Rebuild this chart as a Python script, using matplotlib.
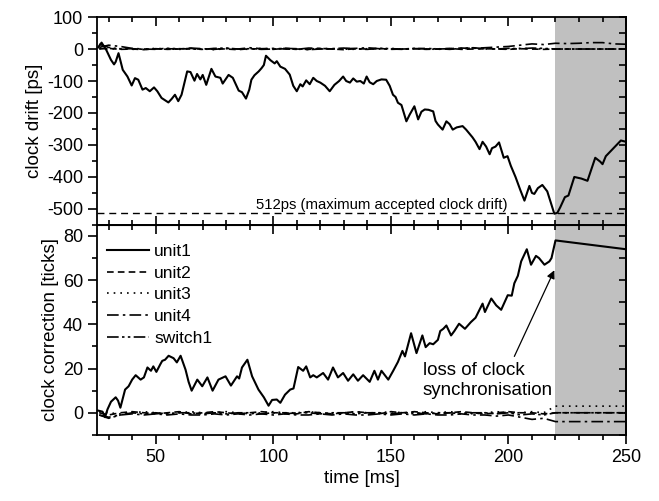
"""Clock drift and clock correction of unit1 versus time, two stacked panels."""

import matplotlib

matplotlib.use("Agg")
import matplotlib.pyplot as plt  # noqa: E402
from matplotlib.ticker import MultipleLocator  # noqa: E402

plt.rcParams["font.family"] = ["Liberation Sans", "DejaVu Sans"]
plt.rcParams["axes.unicode_minus"] = False

# unit1 clock drift [ps]
drift_t = [25.5, 27, 29, 31, 32.3, 33, 34.2, 36, 38, 39.8, 41.2, 42.6, 44.4, 45.8,
           47.5, 49.3, 50.7, 52.5, 54.2, 55.4, 56.8, 58.2, 59.6, 61, 63.4, 64.8,
           66.5, 67.6, 69, 70, 71.5, 73.7, 75.4, 77.5, 78.5, 81, 82.8, 85.3, 86.7,
           88.4, 89.8, 90.7, 92, 93.8, 95, 96, 96.9, 98.8, 100.6, 101.5, 103, 105,
           107, 108.5, 110, 111.5, 112.5, 114, 115.5, 117, 118.5, 120, 122, 124,
           126, 128, 129.7, 131, 132.6, 134, 135.5, 137, 138.5, 139.7, 141, 142.5,
           144, 146, 148, 149.5, 150.9, 152, 153, 154.5, 156.6, 158, 160, 161.6,
           163, 164.4, 166, 168, 169, 170, 172, 173.6, 175, 176.3, 178, 180.5, 182,
           184.7, 186, 187.7, 189, 190.5, 192, 193, 194.5, 196, 198, 199.6, 201,
           203, 205, 206.8, 208.9, 210, 211, 212.5, 214.4, 216.5, 218, 219.5, 220.8,
           222, 224, 225.5, 228, 231, 233.6, 236.9, 239, 240, 241.4, 244, 247.8, 250]
drift_unit1 = [5, 20, -3, -34, -48, -40, -13, -65, -86, -114, -91, -96, -127, -122,
               -132, -120, -132, -153, -161, -167, -156, -143, -163, -143, -70, -72,
               -99, -78, -95, -81, -112, -62, -86, -90, -108, -81, -90, -130, -135,
               -155, -127, -96, -82, -70, -60, -50, -21, -35, -45, -38, -55, -62,
               -80, -115, -132, -110, -117, -98, -110, -90, -100, -105, -115, -132,
               -112, -100, -86, -100, -105, -92, -102, -100, -108, -86, -104, -110,
               -100, -95, -96, -115, -143, -150, -168, -175, -226, -205, -179, -220,
               -196, -189, -190, -195, -225, -236, -252, -226, -235, -252, -245, -241, -252,
               -276, -290, -313, -290, -305, -329, -310, -305, -292, -340, -335, -365,
               -400, -440, -474, -428, -450, -453, -435, -425, -445, -480, -515, -512,
               -495, -463, -458, -400, -405, -412, -340, -352, -360, -335, -315, -286, -290]

# unit1 clock correction [ticks]
corr_t = [25.5, 27.4, 28.5, 29.5, 31, 33, 34, 35, 37, 38.5, 40, 41.5, 43.6, 45, 46.5,
          48, 49, 50.3, 52, 52.8, 54, 55.5, 57.6, 59, 60.6, 62.7, 64, 65.3, 67.7,
          69.8, 72, 74.2, 76.7, 79.7, 82, 84.6, 85.5, 86.7, 89, 91, 93.7, 96, 98,
          99.5, 101.5, 103, 105, 107.2, 108.6, 110.6, 112.7, 114, 115.7, 117, 118.5,
          121.2, 123.3, 125.4, 127.5, 129.7, 131.8, 134, 136, 138.2, 141, 143, 144.5,
          146, 148.9, 151, 153, 154.9, 156, 158.6, 160.9, 163.4, 164.8, 166.5, 168,
          170, 171, 172.3, 173.6, 175.6, 177, 179, 181.5, 184, 186, 189, 190, 192.7,
          194.8, 196.9, 199.7, 201.4, 202.5, 204, 205.4, 207.8, 209.6, 211.7, 213,
          215.3, 217.4, 218.3, 220, 250]
corr_unit1 = [1, 0.5, -2, 1.5, 5, 7, 5.5, 2.3, 10.5, 12, 15, 17, 15, 16, 20.5,
              19, 21, 18.5, 22, 23.5, 24, 25.8, 24.7, 22.8, 25.8, 19.5, 14, 10, 15,
              12, 16, 10, 15, 16.5, 12.3, 16.5, 15.5, 20.5, 24, 16.5, 10.5, 7, 3.2,
              5.8, 6, 4.5, 8.2, 10.5, 11, 20.7, 19, 21, 16, 17, 16,
              18, 15, 20.5, 16, 18, 14.5, 17.4, 14.5, 17, 14, 19, 15,
              19, 15, 19, 23, 28, 25.5, 36, 27, 35, 29.7, 31.5, 31,
              33, 37, 38, 39.5, 35, 37, 40.3, 38, 41, 43, 49.4, 45.6, 51.7,
              48.6, 46.6, 53.2, 53, 58.6, 62, 68.5, 74, 67, 71, 70,
              67, 68.5, 70, 78, 74]

# the other units, sampled coarsely
aux_t = [26, 30, 35, 40, 45, 50, 55, 60, 65, 70, 75, 80, 85, 90, 95, 100, 105, 110,
         115, 120, 125, 130, 135, 140, 145, 150, 155, 160, 165, 170, 175, 180, 185,
         190, 195, 200, 205, 210, 215, 220, 225, 230, 235, 240, 245, 250]
drift_unit2 = [0, 2, -1, 0, -2, 1, -1, 0, 2, -1, 1, 0, -2, 1, 0, -1, 2, 0, -1, 1, 0, -2,
               1, 0, 2, -1, 0, 1, -1, 0, 2, -1, 0, 1, 0, -1, 1, 0, -1, 0, 0, 0, 0, 0, 0, 0]
drift_unit3 = [2, 0, 1, -1, 0, 2, 0, -1, 1, 0, -2, 1, 0, -1, 2, 0, 1, -1, 0, 2, 1, 0,
               -1, 1, 0, 2, -1, 1, 0, -1, 1, 0, 2, 0, 1, 0, 2, 1, 0, 0, 0, 0, 0, 0, 0, 0]
drift_unit4 = [5, 12, 8, 2, 0, -1, 1, 0, 3, 1, -1, 2, 0, 4, 1, 2, 0, -1, 3, 2, 0, 1,
               2, 4, 1, 0, -1, 1, 2, 0, 1, 3, 2, 4, 6, 8, 12, 16, 14, 18, 17, 18, 20, 20, 16, 15]
drift_switch1 = [15, 5, 0, 1, -1, 0, 2, 1, 0, -1, 2, 3, 0, 1, -1, 0, 2, 1, -2, 0, 1, 3,
                 0, -1, 2, 1, 0, 2, 0, 1, -1, 2, 4, 1, 0, 2, 1, 3, 2, 0, 0, 0, 0, 0, 0, 0]

corr_unit2 = [0, -1, 0, 0.5, 0, -0.5, 0, 0.5, -0.5, 0, 0.5, 0, -0.5, 0, 0.5, 0, 0, -0.5,
              0.5, 0, -0.5, 0, 0.5, 0, -0.5, 0.5, 0, 0.5, 0, -0.5, 0, 0.5, 0, -0.5, 0,
              0.5, 0, 0, -0.5, 0, 0, 0, 0, 0, 0, 0]
corr_unit3 = [0.5, 0, -0.5, 0, 0.5, 0, -0.5, 0, 0.5, 0, 0, 0.5, 0, -0.5, 0, 0.5, 0, 0,
              0.5, 0, -0.5, 0, 0.5, 0, 0, 0.5, 0, -0.5, 0.5, 0, 0.5, 0, -0.5, 0, 0.5, 0,
              0, 0.5, 0, 3, 3, 3, 3, 3, 3, 3]
corr_unit4 = [-1, -2, -1, -0.5, -1, -0.5, -1, -0.5, -1, -1, -0.5, -1, -0.5, -1, -0.5,
              -1, -0.5, -1, -1, -0.5, -1, -0.5, -1, -1, -0.5, -1, -0.5, -1, -0.5, -1,
              -1, -0.5, -1, -1, -1.5, -1, -2, -3, -2.5, -4, -4, -4, -4, -4, -4, -4]
corr_switch1 = [-1, -2.5, -1, 0, -0.5, 0, -0.5, 0, 0, -0.5, 0, -0.5, 0, 0, -0.5, 0,
                -0.5, 0, 0, -0.5, 0, 0, -0.5, 0, 0, -0.5, 0, 0, -0.5, 0, 0, -0.5, 0, 0,
                -0.5, 0, -1, -0.5, -1, 0, 0, 0, 0, 0, 0, 0]

max_drift = -512
sync_lost = (220, 250)

STYLES = {
    "unit1": dict(ls="-", lw=1.5),
    "unit2": dict(ls=(0, (4, 2.5)), lw=1.2),
    "unit3": dict(ls=(0, (1, 3)), lw=1.2),
    "unit4": dict(ls=(0, (7, 2.5, 1.5, 2.5)), lw=1.2),
    "switch1": dict(ls=(0, (7, 2, 1.5, 2, 1.5, 2)), lw=1.2),
}


def style_axes(ax, bottom_out):
    for s in ax.spines.values():
        s.set_linewidth(1.3)
    ax.set_xlim(25, 250)
    ax.xaxis.set_major_locator(MultipleLocator(50))
    ax.xaxis.set_minor_locator(MultipleLocator(10))
    ax.tick_params(axis="both", which="major", length=6.5, width=1.2, labelsize=13)
    ax.tick_params(axis="both", which="minor", length=3.5, width=1.2)
    ax.tick_params(axis="y", which="both", direction="out", right=False)
    right = ax.secondary_yaxis("right")
    right.tick_params(which="both", direction="in", labelright=False, width=1.2)
    right.tick_params(which="major", length=5)
    right.tick_params(which="minor", length=5)
    right.spines["right"].set_linewidth(1.3)
    if bottom_out:
        ax.tick_params(axis="x", which="both", direction="out", top=False)
        top = ax.secondary_xaxis("top")
        top.xaxis.set_major_locator(MultipleLocator(50))
        top.xaxis.set_minor_locator(MultipleLocator(10))
        top.tick_params(which="both", direction="in", labeltop=False, width=1.2)
        top.tick_params(which="major", length=6.5)
        top.tick_params(which="minor", length=3.5)
    else:
        ax.tick_params(axis="x", which="both", direction="in", top=True,
                       labelbottom=False)
    return right


def main() -> None:
    fig = plt.figure(figsize=(6.59, 5.01), dpi=100)
    ax1 = fig.add_axes([0.147, 0.551, 0.803, 0.415])
    ax2 = fig.add_axes([0.147, 0.132, 0.803, 0.419])

    # top: clock drift
    ax1.axvspan(*sync_lost, color="#c0c0c0", lw=0, zorder=0)
    ax1.plot(aux_t, drift_unit2, color="k", **STYLES["unit2"])
    ax1.plot(aux_t, drift_unit3, color="k", **STYLES["unit3"])
    ax1.plot(aux_t, drift_unit4, color="k", **STYLES["unit4"])
    ax1.plot(aux_t, drift_switch1, color="k", **STYLES["switch1"])
    ax1.plot(drift_t, drift_unit1, color="k", **STYLES["unit1"])
    ax1.axhline(max_drift, color="k", lw=1.0, ls=(0, (5, 3.5)))
    ax1.text(146, max_drift + 2, "512ps (maximum accepted clock drift)",
             ha="center", va="bottom", fontsize=10.7)
    ax1.set_ylim(-550, 100)
    ax1.yaxis.set_major_locator(MultipleLocator(100))
    ax1.yaxis.set_minor_locator(MultipleLocator(50))
    r1 = style_axes(ax1, bottom_out=False)
    r1.yaxis.set_major_locator(MultipleLocator(100))
    r1.yaxis.set_minor_locator(MultipleLocator(50))
    ax1.set_ylabel("clock drift [ps]", fontsize=13.5, labelpad=3)

    # bottom: clock correction
    ax2.axvspan(*sync_lost, color="#c0c0c0", lw=0, zorder=0)
    ax2.plot(corr_t, corr_unit1, color="k", label="unit1", **STYLES["unit1"])
    ax2.plot(aux_t, corr_unit2, color="k", label="unit2", **STYLES["unit2"])
    ax2.plot(aux_t, corr_unit3, color="k", label="unit3", **STYLES["unit3"])
    ax2.plot(aux_t, corr_unit4, color="k", label="unit4", **STYLES["unit4"])
    ax2.plot(aux_t, corr_switch1, color="k", label="switch1", **STYLES["switch1"])
    ax2.set_ylim(-10, 85)
    ax2.yaxis.set_major_locator(MultipleLocator(20))
    ax2.yaxis.set_minor_locator(MultipleLocator(10))
    r2 = style_axes(ax2, bottom_out=True)
    r2.yaxis.set_major_locator(MultipleLocator(20))
    r2.yaxis.set_minor_locator(MultipleLocator(10))
    ax2.set_ylabel("clock correction [ticks]", fontsize=13.5, labelpad=3)
    ax2.set_xlabel("time [ms]", fontsize=13.5, labelpad=3)

    ax2.legend(loc="upper left", bbox_to_anchor=(0.0, 0.96), frameon=False,
               fontsize=12.5, handlelength=2.4, handletextpad=0.3,
               labelspacing=0.38, borderaxespad=0.3, borderpad=0.3)

    ax2.text(163.6, 23, "loss of clock\nsynchronisation", ha="left", va="top",
             fontsize=13.5)
    ax2.annotate("", xy=(219.5, 64.5), xytext=(202.5, 25.5),
                 arrowprops=dict(arrowstyle="-|>", lw=0.9, color="k",
                                 mutation_scale=12, shrinkA=0, shrinkB=0))

    fig.savefig("out.png", dpi=100)


if __name__ == "__main__":
    main()
